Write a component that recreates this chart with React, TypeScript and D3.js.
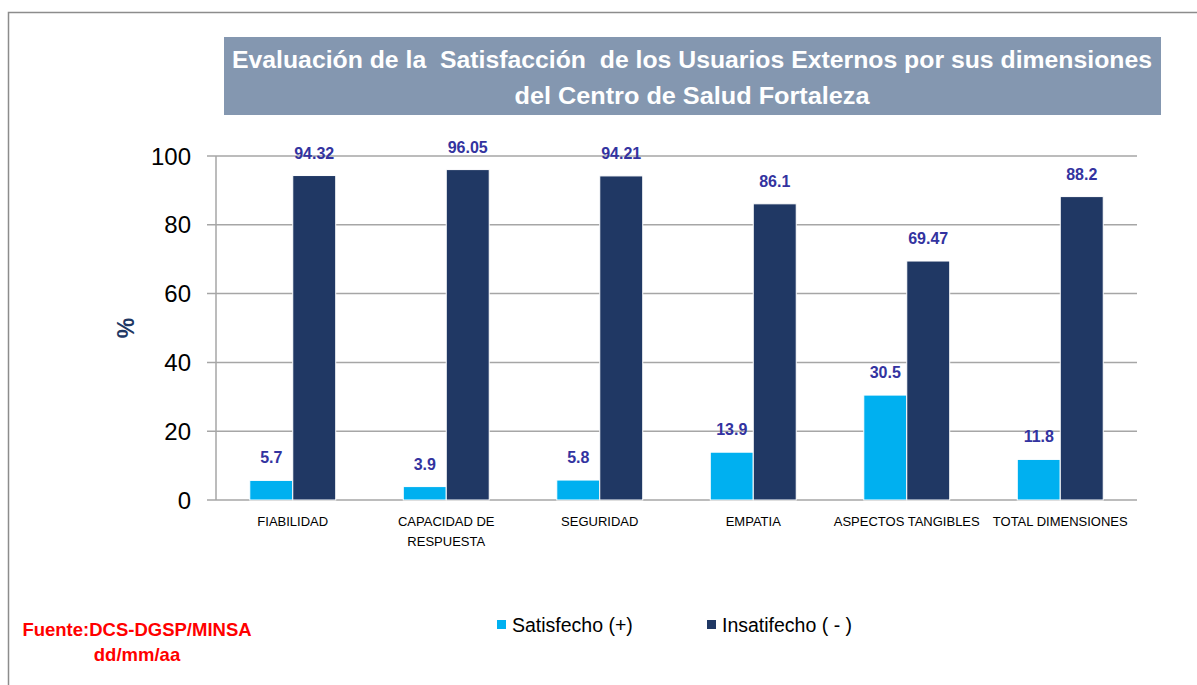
import React from "react";
import * as d3 from "d3";

const categories = ["FIABILIDAD", "CAPACIDAD DE RESPUESTA", "SEGURIDAD", "EMPATIA", "ASPECTOS TANGIBLES", "TOTAL DIMENSIONES"];
const categoryLines = [["FIABILIDAD"], ["CAPACIDAD DE", "RESPUESTA"], ["SEGURIDAD"], ["EMPATIA"], ["ASPECTOS TANGIBLES"], ["TOTAL DIMENSIONES"]];
const seriesNames = ["Satisfecho (+)", "Insatifecho ( - )"];
const satisfecho = [5.7, 3.9, 5.8, 13.9, 30.5, 11.8];
const insatisfecho = [94.32, 96.05, 94.21, 86.1, 69.47, 88.2];
const yTicks = [0, 20, 40, 60, 80, 100];
const colors = ["#00B0F0", "#203864"];

const W = 1197, H = 685;
const plot = { left: 216, right: 1137, top: 156, bottom: 500 };
const font = "'Liberation Sans', Arial, sans-serif";

export default function App() {
  const x = d3.scaleBand<string>().domain(categories).range([plot.left, plot.right]).paddingInner(0.44).paddingOuter(0.22);
  const xs = d3.scaleBand<number>().domain([0, 1]).range([0, x.bandwidth()]);
  const y = d3.scaleLinear().domain([0, 100]).range([plot.bottom, plot.top]);
  const series = [satisfecho, insatisfecho];

  return (
    <svg width={W} height={H} style={{ position: "absolute", left: 0, top: 0, display: "block" }} fontFamily={font}>
      <rect x={0} y={0} width={W} height={H} fill="#fff" />
      <path d={`M8.5,${H} V12.5 H${W}`} fill="none" stroke="#8c8c8c" strokeWidth={1.5} />
      {/* title */}
      <rect x={224} y={37} width={937} height={78} fill="#8497B0" />
      <text x={692} y={68} textAnchor="middle" fill="#fff" fontWeight="bold" fontSize={23} textLength={920} lengthAdjust="spacingAndGlyphs" style={{ whiteSpace: "pre" }}>
        {"Evaluación de la  Satisfacción  de los Usuarios Externos por sus dimensiones"}
      </text>
      <text x={692} y={104} textAnchor="middle" fill="#fff" fontWeight="bold" fontSize={23} textLength={355} lengthAdjust="spacingAndGlyphs">
        del Centro de Salud Fortaleza
      </text>
      {/* grid */}
      {yTicks.map((t) => (
        <g key={t}>
          <line x1={207} x2={plot.right} y1={y(t)} y2={y(t)} stroke="#A6A6A6" strokeWidth={1.5} />
          <text x={191} y={y(t)} dy="0.36em" textAnchor="end" fontSize={24} fill="#000">{t}</text>
        </g>
      ))}
      <line x1={plot.left} x2={plot.left} y1={plot.top} y2={plot.bottom} stroke="#A6A6A6" strokeWidth={1.5} />
      <text transform={`translate(134,328) rotate(-90)`} textAnchor="middle" fontSize={23} fontWeight="bold" fill="#1F3864">%</text>
      {/* bars */}
      {series.map((vals, si) =>
        vals.map((v, i) => {
          const bx = (x(categories[i]) as number) + (xs(si) as number);
          const bw = xs.bandwidth();
          return (
            <g key={`${si}-${i}`}>
              <rect x={bx} y={y(v)} width={bw} height={y(0) - y(v)} fill={colors[si]} stroke="#fff" strokeWidth={1} />
              <text x={bx + bw / 2} y={y(v) - 17} textAnchor="middle" fontSize={16} fontWeight="bold" fill="#3333A0">{v}</text>
            </g>
          );
        })
      )}
      {/* x labels */}
      {categoryLines.map((lines, i) => (
        <text key={i} textAnchor="middle" fontSize={13} fill="#000">
          {lines.map((l, j) => (
            <tspan key={j} x={(x(categories[i]) as number) + x.bandwidth() / 2} y={526 + j * 20}>{l}</tspan>
          ))}
        </text>
      ))}
      {/* legend */}
      {seriesNames.map((n, i) => {
        const lx = [497, 707][i];
        return (
          <g key={n}>
            <rect x={lx} y={620} width={9} height={9} fill={colors[i]} />
            <text x={lx + 15} y={632} fontSize={19.5} fill="#000">{n}</text>
          </g>
        );
      })}
      {/* source */}
      <text x={137} y={636} textAnchor="middle" fontSize={18.5} fontWeight="bold" fill="#FF0000">Fuente:DCS-DGSP/MINSA</text>
      <text x={137} y={661} textAnchor="middle" fontSize={18.5} fontWeight="bold" fill="#FF0000">dd/mm/aa</text>
    </svg>
  );
}
